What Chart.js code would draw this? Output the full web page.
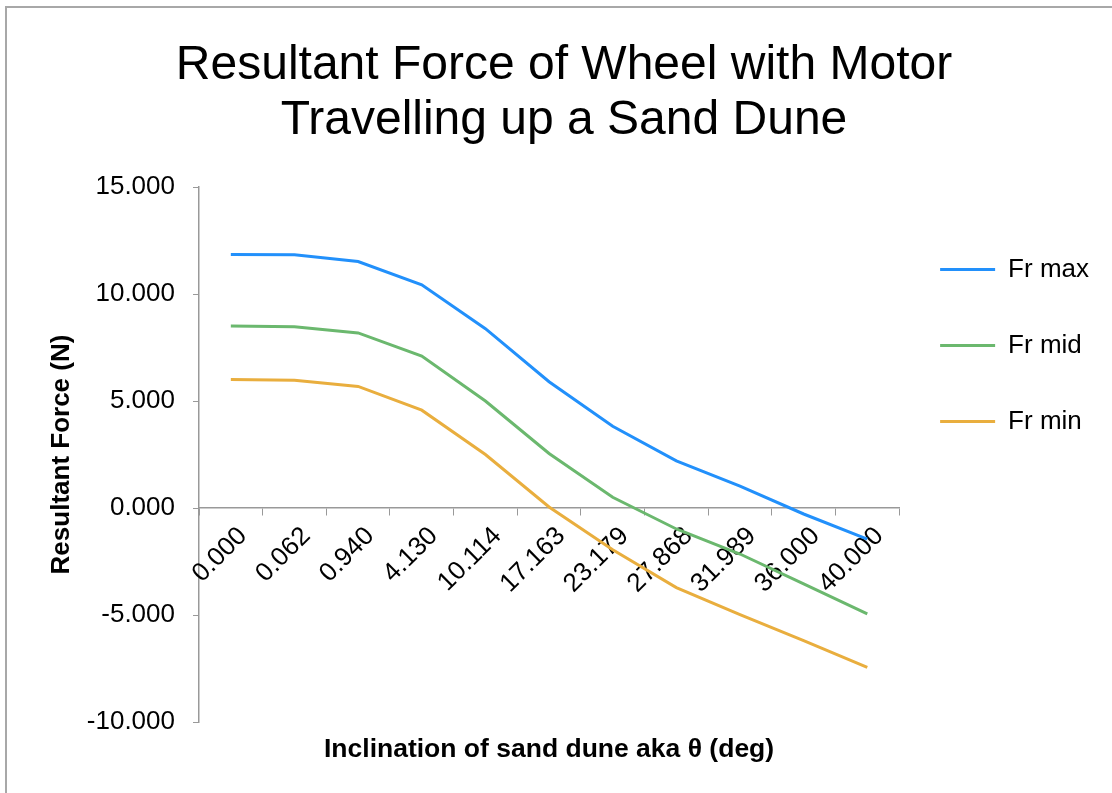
<!DOCTYPE html>
<html>
<head>
<meta charset="utf-8">
<script src="https://cdn.jsdelivr.net/npm/chart.js@4"></script>
<style>
  body { margin: 0; background: #fff; }
  #frame { position: absolute; left: 5px; top: 6px; width: 1200px; height: 900px;
           border-left: 2px solid #a8a8a8; border-top: 2px solid #a8a8a8; }
  #chart { position: absolute; left: 0; top: 0; }
</style>
</head>
<body>
<div id="frame"></div>
<canvas id="chart" width="1112" height="793"></canvas>
<script>
// inclination angle categories (deg)
const thetaLabels = ["0.000", "0.062", "0.940", "4.130", "10.114", "17.163", "23.179", "27.868", "31.989", "36.000", "40.000"];

// resultant force values (N)
const frMax = [11.85, 11.83, 11.52, 10.43, 8.38, 5.90, 3.82, 2.20, 1.02, -0.28, -1.45];
const frMid = [8.50, 8.47, 8.18, 7.10, 5.00, 2.55, 0.50, -0.98, -2.15, -3.55, -4.95];
const frMin = [6.00, 5.97, 5.68, 4.57, 2.50, 0.05, -1.95, -3.72, -4.98, -6.20, -7.45];

const yTicks = [-10, -5, 0, 5, 10, 15];

const fontFamily = "'Liberation Sans', Arial, Helvetica, sans-serif";
const axisGray = "#999999";

const ctx = document.getElementById("chart").getContext("2d");
new Chart(ctx, {
  type: "line",
  data: {
    labels: thetaLabels,
    datasets: [
      { label: "Fr max", data: frMax, borderColor: "#2290fb", backgroundColor: "#2290fb" },
      { label: "Fr mid", data: frMid, borderColor: "#6bb86e", backgroundColor: "#6bb86e" },
      { label: "Fr min", data: frMin, borderColor: "#e9ae3e", backgroundColor: "#e9ae3e" }
    ]
  },
  options: {
    responsive: false,
    animation: false,
    // negative top lets the full-height legend sit a bit higher; title padding makes up for it
    layout: { autoPadding: false, padding: { left: 29, right: 13, top: -22, bottom: 71 } },
    elements: {
      line: { borderWidth: 3, tension: 0 },
      point: { radius: 0 }
    },
    scales: {
      y: {
        min: yTicks[0],
        max: yTicks[yTicks.length - 1],
        afterBuildTicks: (axis) => { axis.ticks = yTicks.map(v => ({ value: v })); },
        // keep the axis band narrow so the plot starts where the original does
        afterFit: (axis) => { axis.width = 170; },
        ticks: {
          color: "#000",
          font: { family: fontFamily, size: 26 },
          padding: 18,
          callback: (v) => Number(v).toFixed(3)
        },
        grid: { drawOnChartArea: false, tickLength: 6, color: axisGray },
        border: { color: axisGray, width: 1.5 },
        title: {
          display: true,
          text: "Resultant Force (N)",
          color: "#000",
          font: { family: fontFamily, size: 26, weight: "bold" },
          padding: { top: 17, bottom: 11 }
        }
      },
      x: {
        position: { y: 0 },
        offset: true,
        ticks: {
          color: "#000",
          font: { family: fontFamily, size: 26 },
          minRotation: 45,
          maxRotation: 45,
          autoSkip: false,
          padding: 6,
          labelOffset: 12
        },
        grid: { drawOnChartArea: false, offset: true, tickLength: 7, color: axisGray },
        border: { color: axisGray, width: 1.5 },
        title: {
          display: true,
          text: "Inclination of sand dune aka θ (deg)",
          color: "#000",
          font: { family: fontFamily, size: 26.5, weight: "bold" },
          padding: { top: 128, bottom: 0 }
        }
      }
    },
    plugins: {
      title: {
        display: true,
        text: ["Resultant Force of Wheel with Motor", "Travelling up a Sand Dune"],
        color: "#000",
        font: { family: fontFamily, size: 48, weight: "normal", lineHeight: 1.146 },
        padding: { top: 60, bottom: 39 }
      },
      legend: {
        position: "right",
        align: "center",
        labels: {
          color: "#000",
          font: { family: fontFamily, size: 26, lineHeight: 35 / 26 },
          boxWidth: 55,
          boxHeight: 3,
          padding: 41,
          // text as an array so each entry takes the font's line height; flat swatch, no outline
          generateLabels: (chart) =>
            Chart.defaults.plugins.legend.labels.generateLabels(chart)
              .map(item => Object.assign(item, { text: [item.text], lineWidth: 0 }))
        }
      },
      tooltip: { enabled: false }
    }
  }
});
</script>
</body>
</html>
